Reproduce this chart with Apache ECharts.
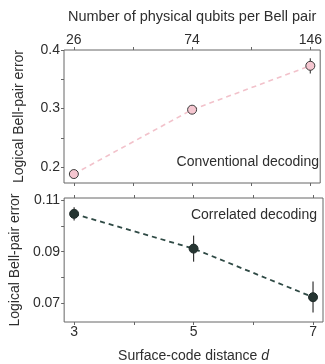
<!DOCTYPE html>
<html><head><meta charset="utf-8">
<script src="https://cdn.jsdelivr.net/npm/echarts@6/dist/echarts.min.js"></script>
<style>html,body{margin:0;padding:0;background:#fff}#c{width:325px;height:364px}</style>
</head><body><div id="c"></div>
<script>
const distances = [3, 5, 7];
const qubitLabels = ['26', '74', '146'];
const conventional = [0.188, 0.298, 0.373];
const conventionalLow = [0.185, 0.295, 0.360];
const conventionalHigh = [0.191, 0.301, 0.386];
const correlated = [0.1048, 0.0912, 0.0722];
const correlatedLow = [0.1022, 0.0861, 0.0662];
const correlatedHigh = [0.1074, 0.0963, 0.0783];
const topTicks = [0.2, 0.25, 0.3, 0.35, 0.4];
const topLabels = [0.2, 0.3, 0.4];
const botTicks = [0.07, 0.08, 0.09, 0.10, 0.11];
const botLabels = [0.07, 0.09, 0.11];
const xTicks = [3, 4, 5, 6, 7];

const FONT = 'Liberation Sans';
const TXT = '#2e2e2e';
const AX = '#666';
const FS = 14;
const chart = echarts.init(document.getElementById('c'));

function xAx(grid, pos, labels, extra) {
  return Object.assign({
    type: 'value', gridIndex: grid, position: pos, min: 2.833, max: 7.167,
    axisLine: {show: false}, splitLine: {show: false},
    axisTick: {show: true, inside: false, length: 3, customValues: xTicks, lineStyle: {color: AX}},
    axisLabel: labels ? {show: true, customValues: distances, margin: 3, color: TXT, fontFamily: FONT, fontSize: FS,
      formatter: labels} : {show: false}
  }, extra || {});
}
function yAx(grid, min, max, ticks, labels, fmt) {
  return {
    type: 'value', gridIndex: grid, min: min, max: max,
    axisLine: {show: false}, splitLine: {show: false},
    axisTick: {show: true, length: 3, customValues: ticks, lineStyle: {color: AX}},
    axisLabel: {customValues: labels, margin: 4, color: TXT, fontFamily: FONT, fontSize: FS, formatter: fmt},
    name: 'Logical Bell-pair error', nameLocation: 'middle', nameGap: 38,
    nameTextStyle: {color: TXT, fontFamily: FONT, fontSize: FS}
  };
}
function errBars(xi, yi, low, high, color) {
  return {
    type: 'custom', xAxisIndex: xi, yAxisIndex: yi, z: 1,
    data: distances.map((d, i) => [d, low[i], high[i]]),
    renderItem: (params, api) => {
      const a = api.coord([api.value(0), api.value(1)]);
      const b = api.coord([api.value(0), api.value(2)]);
      return {type: 'line', shape: {x1: a[0], y1: a[1], x2: b[0], y2: b[1]}, style: {stroke: color, lineWidth: 1.2}};
    }
  };
}

chart.setOption({
  animation: false,
  textStyle: {fontFamily: FONT},
  grid: [
    {left: 64, right: 2, top: 50, height: 133, show: true, borderColor: AX, borderWidth: 1},
    {left: 64, right: 2, top: 198, height: 134, show: true, borderColor: AX, borderWidth: 1}
  ],
  xAxis: [
    xAx(0, 'top', v => qubitLabels[distances.indexOf(v)], {
      name: 'Number of physical qubits per Bell pair', nameLocation: 'middle', nameGap: 26,
      nameTextStyle: {color: TXT, fontFamily: FONT, fontSize: 14.5}}),
    xAx(0, 'bottom', null),
    xAx(1, 'top', null),
    xAx(1, 'bottom', v => String(v), {
      name: '{a|Surface-code distance }{b|d}', nameLocation: 'middle', nameGap: 27,
      nameTextStyle: {color: TXT, fontFamily: FONT, fontSize: FS,
        rich: {a: {color: TXT, fontFamily: FONT, fontSize: FS}, b: {color: TXT, fontFamily: FONT, fontSize: FS, fontStyle: 'italic'}}}})
  ],
  yAxis: [
    yAx(0, 0.1727, 0.4, topTicks, topLabels, v => v.toFixed(1)),
    yAx(1, 0.0625, 0.111, botTicks, botLabels, v => v.toFixed(2))
  ],
  series: [
    errBars(0, 0, conventionalLow, conventionalHigh, '#444'),
    {
      type: 'line', xAxisIndex: 0, yAxisIndex: 0, z: 3,
      data: distances.map((d, i) => [d, conventional[i]]),
      symbol: 'circle', symbolSize: 9,
      itemStyle: {color: '#f5c6d0', borderColor: '#3a3a3a', borderWidth: 1},
      lineStyle: {color: '#f2c2cb', width: 1.6, type: [5, 4]}
    },
    errBars(3, 1, correlatedLow, correlatedHigh, '#333'),
    {
      type: 'line', xAxisIndex: 3, yAxisIndex: 1, z: 3,
      data: distances.map((d, i) => [d, correlated[i]]),
      symbol: 'circle', symbolSize: 9,
      itemStyle: {color: '#263532', borderColor: '#1f2b29', borderWidth: 1},
      lineStyle: {color: '#2f4a45', width: 1.8, type: [5, 4]}
    }
  ],
  graphic: [
    {type: 'text', right: 6, top: 155, style: {text: 'Conventional decoding', fill: TXT, font: '14px "Liberation Sans"'}},
    {type: 'text', right: 8, top: 208, style: {text: 'Correlated decoding', fill: TXT, font: '14px "Liberation Sans"'}}
  ]
});
</script></body></html>
